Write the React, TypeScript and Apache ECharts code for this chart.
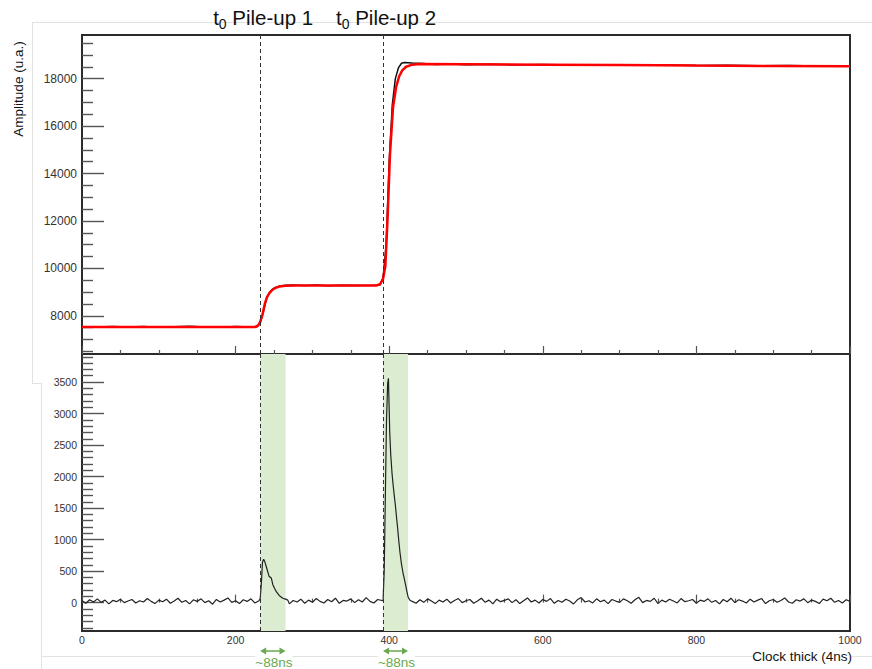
import React, { useEffect, useRef } from "react";
import * as echarts from "echarts";

// ---------- data ----------
const xMin = 0;
const xMax = 1000;
const topYMin = 6390;
const topYMax = 19840;
const botYMin = -450;
const botYMax = 3945;

const topMajorTicks = [8000, 10000, 12000, 14000, 16000, 18000];
const topMinorStep = 500;
const botMajorTicks = [0, 500, 1000, 1500, 2000, 2500, 3000, 3500];
const botMinorStep = 100;

const pileupT0 = [232, 392];
const pileupLabels = ["Pile-up 1", "Pile-up 2"];
const bandRanges = [
  [232, 265],
  [392, 424.5],
];
const bandLabel = "~88ns";

// measured amplitude (black)
const dataTicks = [0, 20, 40, 60, 80, 100, 120, 140, 160, 180, 200, 220, 228, 232, 236, 240, 244, 248, 252, 258, 265, 275, 290, 305, 320, 340, 360, 380, 388, 392, 396, 400, 404, 408, 412, 416, 420, 430, 445, 460, 480, 500, 530, 560, 600, 640, 680, 720, 760, 800, 840, 880, 920, 960, 1000];
const dataValues = [7540, 7525, 7550, 7530, 7545, 7520, 7535, 7555, 7530, 7520, 7545, 7530, 7535, 7700, 8150, 8700, 8980, 9120, 9200, 9260, 9290, 9300, 9280, 9300, 9270, 9285, 9275, 9290, 9300, 9600, 11000, 14500, 16900, 18000, 18450, 18650, 18680, 18660, 18640, 18600, 18620, 18590, 18610, 18580, 18600, 18570, 18590, 18560, 18575, 18550, 18565, 18540, 18555, 18530, 18520];

// fit (red)
const fitTicks = [0, 225, 229, 232, 235, 238, 241, 244, 248, 252, 257, 265, 280, 383, 388, 392, 395, 398, 401, 405, 409, 413, 417, 422, 430, 440, 500, 600, 700, 800, 900, 1000];
const fitValues = [7530, 7530, 7580, 7740, 8050, 8500, 8800, 8960, 9100, 9180, 9235, 9265, 9278, 9278, 9330, 9560, 10100, 12200, 14800, 16800, 17650, 18100, 18350, 18500, 18590, 18620, 18610, 18590, 18570, 18550, 18535, 18520];

// derivative signal (bottom), baseline noise sampled every 5 clock ticks
const noiseStep = 5;
const noiseValues = [
  30, -10, 45, 10, 60, 5, 40, -20, 35, 15, 55, 0, 25, 50, -5, 30, 10, 65, 20, -15,
  40, 15, 55, -10, 25, 70, 5, 35, -20, 45, 20, 60, 0, 30, -25, 50, 10, 40, 75, 5,
  30, -15, 45, 20, 60, -5, 20, 0, 0, 0, 0, 0, 0, 0, -20, 35, 10, 55, -10, 40,
  5, 65, 20, -5, 50, 15, 70, -10, 35, 25, 60, 0, 45, 10, 80, 20, -5, 50, 15, 30,
  0, 0, 0, 0, 0, 0, 20, -10, 45, 5, 60, 25, -15, 40, 10, 55, -5, 35, 65, 0,
  30, 50, -10, 25, 70, 5, 40, -20, 55, 15, 35, 60, 0, 45, -15, 30, 75, 10, 40, -5,
  50, 20, 65, -10, 35, 5, 55, 25, -20, 45, 80, 10, 30, -5, 60, 15, 40, -15, 50, 25,
  5, 60, 30, -10, 45, 85, 0, 35, 20, 70, -15, 40, 10, 55, 25, -5, 65, 15, 30, 50,
  -10, 40, 20, 60, 5, 35, -20, 50, 15, 70, 0, 45, 25, -5, 55, 10, 40, 65, -15, 30,
  50, 5, 35, 75, 10, -10, 45, 25, 60, 0, 40, 20, -15, 55, 30, 70, 5, 35, -5, 45,
  20,
];
const peakWindows = [
  [228, 269],
  [390, 429],
];
const peak1Ticks = [230, 232, 233.5, 235, 236.5, 238, 240, 243.5, 246.5, 248.5, 251, 253, 257, 261.5, 265, 268];
const peak1Values = [25, 60, 300, 640, 690, 650, 570, 420, 390, 285, 220, 175, 110, 70, 55, 40];
const peak2Ticks = [392, 393.5, 395, 396.5, 398, 399, 400.7, 402, 403.7, 405, 406.3, 408, 409.4, 411, 412.4, 414, 415.9, 418, 419.5, 421, 423, 424.5, 426.5, 428];
const peak2Values = [30, 500, 1700, 2900, 3480, 3560, 2700, 2350, 2050, 1880, 1730, 1550, 1370, 1180, 990, 800, 620, 470, 390, 300, 180, 95, 45, 30];

// ---------- style ----------
const FONT = "'Liberation Sans', Arial, Helvetica, sans-serif";
const FRAME = "#2b2b2b";
const TICK = "#555";
const GREEN = "#6aa84f";
const BAND = "#dbecd1";
const PALE = "#e2e2e2";

function minorValues(min: number, max: number, step: number, majors: number[]) {
  const out: number[] = [];
  const start = Math.ceil(min / step) * step;
  for (let v = start; v <= max; v += step) {
    if (majors.indexOf(v) < 0) out.push(v);
  }
  return out;
}

export default function App() {
  const ref = useRef<HTMLDivElement>(null);

  useEffect(() => {
    if (!ref.current) return;
    const chart = echarts.init(ref.current, undefined, { renderer: "svg" });

    const topData = dataTicks.map((t, i) => [t, dataValues[i]]);
    const fitData = fitTicks.map((t, i) => [t, fitValues[i]]);
    const botData: number[][] = [];
    noiseValues.forEach((v, i) => {
      const t = i * noiseStep;
      const inside = peakWindows.some(([a, b]) => t >= a && t <= b);
      if (!inside) botData.push([t, v]);
    });
    peak1Ticks.forEach((t, i) => botData.push([t, peak1Values[i]]));
    peak2Ticks.forEach((t, i) => botData.push([t, peak2Values[i]]));
    botData.sort((a, b) => a[0] - b[0]);

    const xAxisBase = (gridIndex: number, showLabel: boolean) => ({
      type: "value" as const,
      gridIndex,
      min: xMin,
      max: xMax,
      interval: 200,
      axisLine: { show: false },
      splitLine: { show: false },
      axisTick: { show: true, inside: true, length: 8, lineStyle: { color: TICK, width: 1.2 } },
      minorTick: { show: true, splitNumber: 4, length: 4, lineStyle: { color: TICK, width: 1.2 } },
      axisLabel: {
        show: showLabel,
        fontSize: 10.5,
        fontFamily: FONT,
        color: "#333",
        margin: 3,
        formatter: (v: number) => String(v),
      },
    });

    const yMajor = (gridIndex: number, min: number, max: number, ticks: number[], fontSize: number) => ({
      type: "value" as const,
      gridIndex,
      position: "left" as const,
      min,
      max,
      axisLine: { show: false },
      splitLine: { show: false },
      axisTick: { show: true, inside: true, length: 22, customValues: ticks, lineStyle: { color: TICK, width: 1.4 } },
      axisLabel: {
        show: true,
        customValues: ticks,
        fontSize,
        fontFamily: FONT,
        color: "#333",
        margin: 5,
        formatter: (v: number) => String(v),
      },
    });
    const yMinor = (gridIndex: number, min: number, max: number, ticks: number[]) => ({
      type: "value" as const,
      gridIndex,
      position: "left" as const,
      offset: 0,
      min,
      max,
      axisLine: { show: false },
      splitLine: { show: false },
      axisTick: { show: true, inside: true, length: 11, customValues: ticks, lineStyle: { color: TICK, width: 1.4 } },
      axisLabel: { show: false },
    });

    const markLineT0 = {
      silent: true,
      symbol: "none",
      label: { show: false },
      lineStyle: { type: [4, 3], color: "#333", width: 1 },
      data: pileupT0.map((t) => ({ xAxis: t })),
    };

    chart.setOption({
      animation: false,
      grid: [
        { left: 82, top: 35, width: 768, height: 319, show: true, borderColor: FRAME, borderWidth: 2, backgroundColor: "transparent" },
        { left: 82, top: 354, width: 768, height: 277, show: true, borderColor: FRAME, borderWidth: 2, backgroundColor: "transparent" },
      ],
      xAxis: [xAxisBase(0, false), xAxisBase(1, true)],
      yAxis: [
        yMajor(0, topYMin, topYMax, topMajorTicks, 12),
        yMinor(0, topYMin, topYMax, minorValues(topYMin, topYMax, topMinorStep, topMajorTicks)),
        yMajor(1, botYMin, botYMax, botMajorTicks, 10.5),
        yMinor(1, botYMin, botYMax, minorValues(botYMin, botYMax, botMinorStep, botMajorTicks)),
      ],
      series: [
        {
          type: "line",
          name: "data",
          xAxisIndex: 0,
          yAxisIndex: 0,
          data: topData,
          showSymbol: false,
          lineStyle: { color: "#111", width: 1.5 },
          z: 2,
          markLine: markLineT0,
        },
        {
          type: "line",
          name: "fit",
          xAxisIndex: 0,
          yAxisIndex: 0,
          data: fitData,
          showSymbol: false,
          lineStyle: { color: "#ff0000", width: 2.5 },
          z: 3,
        },
        {
          type: "line",
          name: "bands",
          xAxisIndex: 1,
          yAxisIndex: 2,
          data: [],
          z: 1,
          markArea: {
            silent: true,
            itemStyle: { color: BAND },
            data: bandRanges.map(([a, b]) => [{ xAxis: a }, { xAxis: b }]),
          },
        },
        {
          type: "line",
          name: "derivative",
          xAxisIndex: 1,
          yAxisIndex: 2,
          data: botData,
          showSymbol: false,
          lineStyle: { color: "#222", width: 1.2 },
          z: 3,
          markLine: markLineT0,
        },
      ],
    });

    const px = (t: number) => chart.convertToPixel({ xAxisIndex: 1 }, t) as number;

    const graphics: any[] = [
      // faint page borders of the original composition
      { type: "line", shape: { x1: 32, y1: 22.5, x2: 872, y2: 22.5 }, style: { stroke: PALE, lineWidth: 1 }, z: 0 },
      { type: "line", shape: { x1: 32.5, y1: 22, x2: 32.5, y2: 383 }, style: { stroke: PALE, lineWidth: 1 }, z: 0 },
      { type: "line", shape: { x1: 32, y1: 383.5, x2: 41, y2: 383.5 }, style: { stroke: PALE, lineWidth: 1 }, z: 0 },
      { type: "line", shape: { x1: 41.5, y1: 383, x2: 41.5, y2: 669 }, style: { stroke: PALE, lineWidth: 1 }, z: 0 },
      { type: "line", shape: { x1: 41, y1: 656.5, x2: 872, y2: 656.5 }, style: { stroke: PALE, lineWidth: 1 }, z: 0 },
      // axis titles
      {
        type: "text",
        x: 18,
        y: 89,
        rotation: Math.PI / 2,
        style: { text: "Amplitude (u.a.)", fontSize: 13.5, fontFamily: FONT, fill: "#111", align: "center", verticalAlign: "middle" },
        z: 10,
      },
      {
        type: "text",
        x: 852,
        y: 656,
        style: { text: "Clock thick (4ns)", fontSize: 13.5, fontFamily: FONT, fill: "#111", align: "right", verticalAlign: "middle", backgroundColor: "#fff" },
        z: 10,
      },
    ];

    pileupT0.forEach((t, i) => {
      graphics.push({
        type: "text",
        x: px(t) + 3,
        y: 19,
        style: {
          text: `{t|t}{s|0}{t| ${pileupLabels[i]}}`,
          align: "center",
          verticalAlign: "middle",
          rich: {
            t: { fontSize: 20.5, fontFamily: FONT, fill: "#111", lineHeight: 24, verticalAlign: "top" },
            s: { fontSize: 14, fontFamily: FONT, fill: "#111", lineHeight: 13, verticalAlign: "bottom" },
          },
        },
        z: 10,
      });
    });

    bandRanges.forEach(([a, b]) => {
      const x1 = px(a);
      const x2 = px(b);
      const y = 651;
      graphics.push({
        type: "line",
        shape: { x1: x1 + 4, y1: y, x2: x2 - 4, y2: y },
        style: { stroke: GREEN, lineWidth: 1.5 },
        z: 10,
      });
      graphics.push({
        type: "polygon",
        shape: { points: [[x1, y], [x1 + 6, y - 3.5], [x1 + 6, y + 3.5]] },
        style: { fill: GREEN },
        z: 10,
      });
      graphics.push({
        type: "polygon",
        shape: { points: [[x2, y], [x2 - 6, y - 3.5], [x2 - 6, y + 3.5]] },
        style: { fill: GREEN },
        z: 10,
      });
      graphics.push({
        type: "text",
        x: (x1 + x2) / 2 + 1,
        y: 662.5,
        style: { text: bandLabel, fontSize: 13.5, lineHeight: 13, fontFamily: FONT, fill: GREEN, align: "center", verticalAlign: "middle", backgroundColor: "#fff" },
        z: 10,
      });
    });

    chart.setOption({ graphic: graphics });

    return () => chart.dispose();
  }, []);

  return (
    <div
      ref={ref}
      style={{ position: "fixed", left: 0, top: 0, width: 872, height: 669, background: "#fff" }}
    />
  );
}
